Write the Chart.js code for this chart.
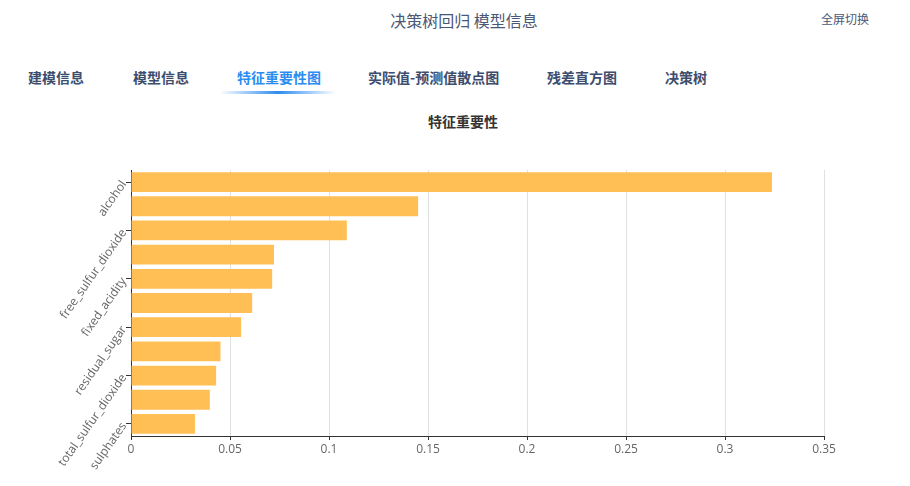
<!DOCTYPE html>
<html>
<head>
<meta charset="utf-8">
<script src="https://cdn.jsdelivr.net/npm/chart.js@4"></script>
<style>
  body { margin: 0; width: 910px; height: 486px; overflow: hidden; background: #fff;
         font-family: "Noto Sans CJK SC", sans-serif; position: relative; }
  .title { position: absolute; top: 8px; left: 0; width: 928px; text-align: center;
           font-size: 16px; color: #4a5877; }
  .full { position: absolute; top: 10px; left: 821px; font-size: 12px; color: #4a5877; }
  .tabs span { position: absolute; top: 67px; font-size: 14px; font-weight: bold; color: #3d4d6e; }
  .tabs span.on { color: #2d8cf0; }
  .line { position: absolute; top: 91px; left: 220px; width: 116px; height: 3px;
          background: linear-gradient(to right, rgba(45,140,240,0), #2d8cf0 50%, rgba(45,140,240,0)); }
  .sub { position: absolute; top: 111px; left: 0; width: 926px; text-align: center;
         font-size: 14px; font-weight: bold; color: #333; }
  #wrap { position: absolute; left: 0; top: 0; width: 910px; height: 486px; }
</style>
</head>
<body>
<div class="title">决策树回归 模型信息</div>
<div class="full">全屏切换</div>
<div class="tabs">
  <span style="left:28px">建模信息</span>
  <span style="left:133px">模型信息</span>
  <span class="on" style="left:237px">特征重要性图</span>
  <span style="left:368px">实际值-预测值散点图</span>
  <span style="left:547px">残差直方图</span>
  <span style="left:665px">决策树</span>
</div>
<div class="line"></div>
<div class="sub">特征重要性</div>
<div id="wrap"><canvas id="chart"></canvas></div>
<script>
// feature names, most important first
const features = ["alcohol", "volatile_acidity", "free_sulfur_dioxide", "chlorides", "fixed_acidity",
  "density", "residual_sugar", "pH", "total_sulfur_dioxide", "citric_acid", "sulphates"];
const importance = [0.3237, 0.145, 0.109, 0.0722, 0.0713, 0.0612, 0.0556, 0.0452, 0.0430, 0.0398, 0.0323];
const xTicks = [0, 0.05, 0.1, 0.15, 0.2, 0.25, 0.3, 0.35];

const labelFont = { family: "'Open Sans', 'Noto Sans CJK SC', sans-serif", size: 12 };

new Chart(document.getElementById("chart"), {
  type: "bar",
  data: {
    labels: features,
    datasets: [{
      data: importance,
      backgroundColor: "#ffbf55",
      barPercentage: 0.82,
      categoryPercentage: 1
    }]
  },
  options: {
    indexAxis: "y",
    responsive: true,
    maintainAspectRatio: false,
    animation: false,
    layout: { padding: { top: 170, right: 86, left: 0, bottom: 0 } },
    plugins: { legend: { display: false }, tooltip: { enabled: false } },
    scales: {
      x: {
        min: 0,
        max: 0.35,
        afterBuildTicks: axis => { axis.ticks = xTicks.map(v => ({ value: v })); },
        afterFit: axis => { axis.height = 50; },
        grid: { color: "#e0e0e0", tickColor: "#333", tickLength: 4 },
        border: { color: "#333" },
        ticks: {
          color: "#666", font: labelFont, padding: 2,
          callback: v => String(Number(v.toFixed(2)))
        }
      },
      y: {
        afterFit: axis => { axis.width = 131; },
        grid: {
          offset: false,
          drawOnChartArea: false,
          tickLength: 5,
          tickColor: ctx => (ctx.index % 2 ? "rgba(0,0,0,0)" : "#333")
        },
        border: { color: "#333" },
        ticks: {
          autoSkip: false,
          minRotation: 55,
          maxRotation: 55,
          padding: 2,
          color: "#666",
          font: labelFont,
          callback: (v, i) => (i % 2 ? "" : features[i])
        }
      }
    }
  }
});
</script>
</body>
</html>
